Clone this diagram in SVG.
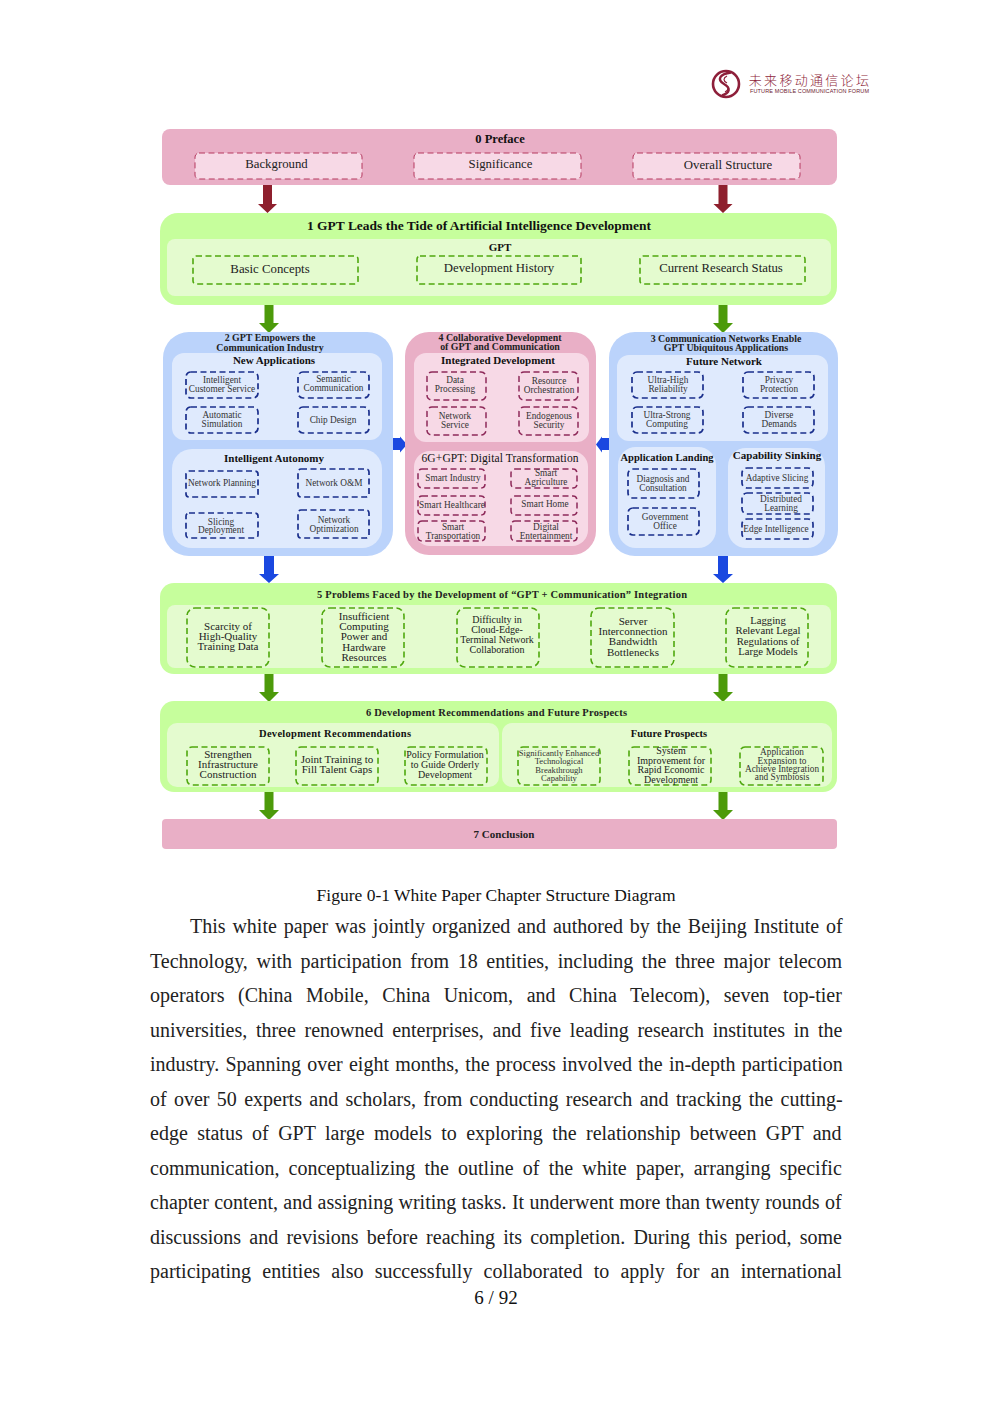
<svg xmlns="http://www.w3.org/2000/svg" width="992" height="1403" viewBox="0 0 992 1403">
<defs><style>
text{font-family:"Liberation Serif","Noto Sans CJK SC",serif;fill:#111;text-anchor:middle}
.t{font-weight:bold;font-size:11px}
.h{font-weight:bold;font-size:9.9px;fill:#222}
.w{font-weight:bold;font-size:11px;fill:#222}
.s{font-size:11px;fill:#222}
.m{font-size:10px;fill:#222}
.l{font-size:9.3px;fill:#333}
.xs{font-size:8.6px;fill:#333}
.top{font-size:12.8px;fill:#222}
.b{font-size:20px;text-anchor:start;fill:#222}
.pk{fill:#E9AFC6}.pi{fill:#F7D9E6}
.gr{fill:#C6FE9C}.gi{fill:#E4FBCF}
.bl{fill:#BBD3FB}.bi{fill:#DFEAFD}
.dp,.dg,.db,.dm{fill:none;stroke-dasharray:6 3.5}
.dp{stroke:#B5385F;stroke-width:1;fill:#F7D9E6}
.dm{stroke:#8E2A5A;stroke-width:1.5}
.dg{stroke:#4FA80E;stroke-width:1.6}
.db{stroke:#1A2F8C;stroke-width:1.7}
.am{fill:#8E1F2D}.ag{fill:#4C9A0A}.ab{fill:#1A48E0}
</style></defs>

<g id="logo">
<circle cx="726" cy="84" r="13" fill="none" stroke="#8E1F3A" stroke-width="2.6"/>
<path d="M731 72.500C719 74 717 80 724 84C731 88 730 93 722 95.500" fill="none" stroke="#8E1F3A" stroke-width="2.400"/>
<path d="M727 76C723 78 723 81 727 83M725 85C729 87 729 90 725 92" fill="none" stroke="#8E1F3A" stroke-width="1.200"/>
<text x="810" y="85" font-size="13" letter-spacing="2.300" style="fill:#8E1F3A;font-weight:300">未来移动通信论坛</text>
<text x="809.500" y="93" font-size="5.500" textLength="119" style="font-family:'Liberation Sans',sans-serif;fill:#6E1A30">FUTURE MOBILE COMMUNICATION FORUM</text>
</g>

<g id="connectors">
<path class="am" d="M263 185h9v19h5l-9.500 9l-9.500-9h5z"/>
<path class="am" d="M718.500 185h9v19h5l-9.500 9l-9.500-9h5z"/>
<path class="ag" d="M264.500 305h9v18h5.500l-10 10l-10-10h5.500z"/>
<path class="ag" d="M718.500 305h9v18h5.500l-10 10l-10-10h5.500z"/>
<path class="ab" d="M264 556h10v18h5l-10 9l-10-9h5z"/>
<path class="ab" d="M718 556h10v18h5l-10 9l-10-9h5z"/>
<path class="ag" d="M264.500 674h9v18h5.500l-10 10l-10-10h5.500z"/>
<path class="ag" d="M718.500 674h9v18h5.500l-10 10l-10-10h5.500z"/>
<path class="ag" d="M264.500 792h9v18h5.500l-10 10l-10-10h5.500z"/>
<path class="ag" d="M718.500 792h9v18h5.500l-10 10l-10-10h5.500z"/>
<path class="ab" d="M393 438h7v-1.500l7 8l-7 8v-2.500h-7z"/>
<path class="ab" d="M609 438h-7v-1.500l-6 8l6 8v-2.500h7z"/>
</g>

<g id="preface">
<rect class="pk" x="162" y="129" width="675" height="56" rx="8"/>
<text class="t" x="500" y="143" style="font-size:12.500px">0 Preface</text>
<g id="preface-background"><rect class="dp" x="195" y="153" width="167" height="26" rx="4"/><text class="top" x="276.500" y="168">Background</text></g>
<g id="preface-significance"><rect class="dp" x="414" y="153" width="167" height="26" rx="4"/><text class="top" x="500.500" y="168">Significance</text></g>
<g id="preface-structure"><rect class="dp" x="633" y="153" width="167" height="26" rx="4"/><text class="top" x="728" y="169">Overall Structure</text></g>
</g>

<g id="section1">
<rect class="gr" x="160" y="213" width="677" height="92" rx="18"/>
<rect class="gi" x="167" y="239" width="664" height="57" rx="8"/>
<text class="t" x="479" y="230" style="font-size:13px" textLength="344" lengthAdjust="spacingAndGlyphs">1 GPT Leads the Tide of Artificial Intelligence Development</text>
<text class="t" x="500" y="251">GPT</text>
<g id="s1-basic"><rect class="dg" x="193" y="256" width="165" height="28" rx="3"/><text class="top" x="270" y="273">Basic Concepts</text></g>
<g id="s1-history"><rect class="dg" x="417" y="256" width="164" height="28" rx="3"/><text class="top" x="499" y="272">Development History</text></g>
<g id="s1-status"><rect class="dg" x="640" y="256" width="165" height="28" rx="3"/><text class="top" x="721" y="272">Current Research Status</text></g>
</g>

<g id="section2">
<rect class="bl" x="163" y="332" width="230" height="224" rx="26"/>
<rect class="bi" x="172" y="353" width="210" height="87" rx="12"/>
<rect class="bi" x="172" y="449" width="210" height="99" rx="20"/>
<text class="h" x="270" y="341">2 GPT Empowers the</text><text class="h" x="270" y="351">Communication Industry</text>
<text class="t" x="274" y="364">New Applications</text>
<text class="t" x="274" y="462">Intelligent Autonomy</text>
<g id="s2-customer"><rect class="db" x="186" y="372" width="72" height="26" rx="5"/><text class="l" x="222" y="383">Intelligent</text><text class="l" x="222" y="392">Customer Service</text></g>
<g id="s2-semantic"><rect class="db" x="298" y="372" width="71" height="26" rx="5"/><text class="l" x="333.500" y="382">Semantic</text><text class="l" x="333.500" y="391">Communication</text></g>
<g id="s2-simulation"><rect class="db" x="186" y="407" width="72" height="26" rx="5"/><text class="l" x="222" y="418">Automatic</text><text class="l" x="222" y="427">Simulation</text></g>
<g id="s2-chip"><rect class="db" x="298" y="407" width="71" height="26" rx="5"/><text class="l" x="333" y="423">Chip Design</text></g>
<g id="s2-planning"><rect class="db" x="186" y="471" width="72" height="26" rx="3"/><text class="l" x="222" y="486">Network Planning</text></g>
<g id="s2-om"><rect class="db" x="298" y="469" width="71" height="28" rx="3"/><text class="l" x="334" y="486">Network O&amp;M</text></g>
<g id="s2-slicing"><rect class="db" x="186" y="513" width="72" height="25" rx="3"/><text class="l" x="221" y="525">Slicing</text><text class="l" x="221" y="533">Deployment</text></g>
<g id="s2-optimization"><rect class="db" x="298" y="510" width="71" height="28" rx="3"/><text class="l" x="334" y="523">Network</text><text class="l" x="334" y="532">Optimization</text></g>
</g>

<g id="section4">
<rect class="pk" x="405" y="332" width="191" height="223" rx="24"/>
<rect class="pi" x="414" y="353" width="175" height="89" rx="12"/>
<rect class="pi" x="414" y="451" width="174" height="95" rx="16"/>
<text class="h" x="500" y="341">4 Collaborative Development</text><text class="h" x="500" y="350">of GPT and Communication</text>
<text class="t" x="498" y="364">Integrated Development</text>
<text class="t" x="500" y="462" style="font-weight:normal;font-size:11.500px" textLength="157">6G+GPT: Digital Transformation</text>
<g id="s4-data"><rect class="dm" x="427" y="372" width="59" height="28" rx="5"/><text class="l" x="455" y="383">Data</text><text class="l" x="455" y="392">Processing</text></g>
<g id="s4-resource"><rect class="dm" x="519" y="372" width="59" height="28" rx="5"/><text class="l" x="549" y="384">Resource</text><text class="l" x="549" y="393">Orchestration</text></g>
<g id="s4-service"><rect class="dm" x="427" y="407" width="59" height="28" rx="5"/><text class="l" x="455" y="419">Network</text><text class="l" x="455" y="428">Service</text></g>
<g id="s4-security"><rect class="dm" x="519" y="407" width="59" height="28" rx="5"/><text class="l" x="549" y="419">Endogenous</text><text class="l" x="549" y="428">Security</text></g>
<g id="s4-industry"><rect class="dm" x="418" y="469" width="67" height="19" rx="4"/><text class="l" x="453" y="481">Smart Industry</text></g>
<g id="s4-agriculture"><rect class="dm" x="511" y="469" width="66" height="19" rx="4"/><text class="l" x="546" y="476">Smart</text><text class="l" x="546" y="485">Agriculture</text></g>
<g id="s4-healthcare"><rect class="dm" x="418" y="496" width="67" height="19" rx="4"/><text class="l" x="452" y="508" textLength="66">Smart Healthcare</text></g>
<g id="s4-home"><rect class="dm" x="511" y="496" width="66" height="19" rx="4"/><text class="l" x="545" y="507">Smart Home</text></g>
<g id="s4-transport"><rect class="dm" x="418" y="521" width="67" height="20" rx="4"/><text class="l" x="453" y="530">Smart</text><text class="l" x="453" y="539">Transportation</text></g>
<g id="s4-entertainment"><rect class="dm" x="511" y="521" width="66" height="20" rx="4"/><text class="l" x="546" y="530">Digital</text><text class="l" x="546" y="539">Entertainment</text></g>
</g>

<g id="section3">
<rect class="bl" x="609" y="332" width="229" height="224" rx="26"/>
<rect class="bi" x="617" y="355" width="211" height="86" rx="12"/>
<rect class="bi" x="618" y="447" width="98" height="101" rx="18"/>
<rect class="bi" x="728" y="448" width="97" height="100" rx="18"/>
<text class="h" x="726" y="342">3 Communication Networks Enable</text><text class="h" x="726" y="351">GPT Ubiquitous Applications</text>
<text class="t" x="724" y="365">Future Network</text>
<text class="t" x="667" y="461" style="font-size:10.500px">Application Landing</text>
<text class="t" x="777" y="459">Capability Sinking</text>
<g id="s3-reliability"><rect class="db" x="632" y="372" width="71" height="26" rx="5"/><text class="l" x="668" y="383">Ultra-High</text><text class="l" x="668" y="392">Reliability</text></g>
<g id="s3-privacy"><rect class="db" x="743" y="372" width="71" height="26" rx="5"/><text class="l" x="779" y="383">Privacy</text><text class="l" x="779" y="392">Protection</text></g>
<g id="s3-computing"><rect class="db" x="632" y="407" width="71" height="26" rx="5"/><text class="l" x="667" y="418">Ultra-Strong</text><text class="l" x="667" y="427">Computing</text></g>
<g id="s3-demands"><rect class="db" x="743" y="407" width="71" height="26" rx="5"/><text class="l" x="779" y="418">Diverse</text><text class="l" x="779" y="427">Demands</text></g>
<g id="s3-diagnosis"><rect class="db" x="628" y="469" width="71" height="29" rx="5"/><text class="l" x="663" y="482">Diagnosis and</text><text class="l" x="663" y="491">Consultation</text></g>
<g id="s3-government"><rect class="db" x="628" y="508" width="71" height="27" rx="5"/><text class="l" x="665" y="520">Government</text><text class="l" x="665" y="529">Office</text></g>
<g id="s3-slicing"><rect class="db" x="742" y="468" width="71" height="20" rx="5"/><text class="l" x="777" y="481">Adaptive Slicing</text></g>
<g id="s3-learning"><rect class="db" x="742" y="493" width="71" height="21" rx="5"/><text class="l" x="781" y="502">Distributed</text><text class="l" x="781" y="511">Learning</text></g>
<g id="s3-edge"><rect class="db" x="742" y="519" width="71" height="20" rx="5"/><text class="l" x="776" y="532">Edge Intelligence</text></g>
</g>

<g id="section5">
<rect class="gr" x="160" y="583" width="677" height="91" rx="14"/>
<rect class="gi" x="167" y="605" width="664" height="63" rx="8"/>
<text class="w" x="502" y="598" style="font-size:10.500px" textLength="370">5 Problems Faced by the Development of “GPT + Communication” Integration</text>
<g id="s5-data"><rect class="dg" x="187" y="608" width="82" height="59" rx="8"/><text class="s" x="228" y="630">Scarcity of</text><text class="s" x="228" y="640">High-Quality</text><text class="s" x="228" y="650">Training Data</text></g>
<g id="s5-power"><rect class="dg" x="322" y="608" width="82" height="59" rx="8"/><text class="s" x="364" y="620">Insufficient</text><text class="s" x="364" y="630">Computing</text><text class="s" x="364" y="640">Power and</text><text class="s" x="364" y="651">Hardware</text><text class="s" x="364" y="661">Resources</text></g>
<g id="s5-network"><rect class="dg" x="457" y="608" width="82" height="59" rx="8"/><text class="m" x="497" y="623">Difficulty in</text><text class="m" x="497" y="633">Cloud-Edge-</text><text class="m" x="497" y="643">Terminal Network</text><text class="m" x="497" y="653">Collaboration</text></g>
<g id="s5-bandwidth"><rect class="dg" x="591" y="608" width="83" height="59" rx="8"/><text class="s" x="633" y="625">Server</text><text class="s" x="633" y="635">Interconnection</text><text class="s" x="633" y="645">Bandwidth</text><text class="s" x="633" y="656">Bottlenecks</text></g>
<g id="s5-legal"><rect class="dg" x="726" y="608" width="82" height="59" rx="8"/><text class="s" x="768" y="624" style="font-size:10.700px">Lagging</text><text class="s" x="768" y="634" style="font-size:10.700px">Relevant Legal</text><text class="s" x="768" y="645" style="font-size:10.700px">Regulations of</text><text class="s" x="768" y="655" style="font-size:10.700px">Large Models</text></g>
</g>

<g id="section6">
<rect class="gr" x="160" y="701" width="677" height="91" rx="14"/>
<rect class="gi" x="167" y="723" width="332" height="64" rx="10"/>
<rect class="gi" x="502" y="723" width="330" height="64" rx="10"/>
<text class="w" x="496.500" y="716" style="font-size:10.500px" textLength="261">6 Development Recommendations and Future Prospects</text>
<text class="t" x="335" y="737" style="font-size:10.500px" textLength="152">Development Recommendations</text>
<text class="t" x="669" y="737" style="font-size:10.500px">Future Prospects</text>
<g id="s6-infra"><rect class="dg" x="187" y="747" width="82" height="38" rx="5"/><text class="s" x="228" y="758">Strengthen</text><text class="s" x="228" y="768">Infrastructure</text><text class="s" x="228" y="778">Construction</text></g>
<g id="s6-talent"><rect class="dg" x="296" y="747" width="82" height="38" rx="5"/><text class="s" x="337" y="763">Joint Training to</text><text class="s" x="337" y="773">Fill Talent Gaps</text></g>
<g id="s6-policy"><rect class="dg" x="405" y="747" width="82" height="38" rx="5"/><text class="m" x="445" y="758">Policy Formulation</text><text class="m" x="445" y="768">to Guide Orderly</text><text class="m" x="445" y="778">Development</text></g>
<g id="s6-tech"><rect class="dg" x="518" y="747" width="82" height="38" rx="5"/><text class="xs" x="559" y="756">Significantly Enhanced</text><text class="xs" x="559" y="764">Technological</text><text class="xs" x="559" y="773">Breakthrough</text><text class="xs" x="559" y="781">Capability</text></g>
<g id="s6-system"><rect class="dg" x="629" y="747" width="82" height="38" rx="5"/><text class="m" x="671" y="754">System</text><text class="m" x="671" y="764">Improvement for</text><text class="m" x="671" y="773">Rapid Economic</text><text class="m" x="671" y="783">Development</text></g>
<g id="s6-application"><rect class="dg" x="740" y="747" width="83" height="38" rx="5"/><text class="l" x="782" y="755">Application</text><text class="l" x="782" y="764">Expansion to</text><text class="l" x="782" y="772">Achieve Integration</text><text class="l" x="782" y="780">and Symbiosis</text></g>
</g>

<g id="section7">
<rect class="pk" x="162" y="819" width="675" height="30" rx="4"/>
<text class="w" x="504" y="838">7 Conclusion</text>
</g>

<text x="496" y="901" font-size="17.500" textLength="359">Figure 0-1 White Paper Chapter Structure Diagram</text>
<g id="body">
<text class="b" x="190" y="933" word-spacing="1.83">This white paper was jointly organized and authored by the Beijing Institute of</text>
<text class="b" x="150" y="968" word-spacing="3.6">Technology, with participation from 18 entities, including the three major telecom</text>
<text class="b" x="150" y="1002" word-spacing="8.56">operators (China Mobile, China Unicom, and China Telecom), seven top-tier</text>
<text class="b" x="150" y="1037" word-spacing="3.7">universities, three renowned enterprises, and five leading research institutes in the</text>
<text class="b" x="150" y="1071" word-spacing="1.2">industry. Spanning over eight months, the process involved the in-depth participation</text>
<text class="b" x="150" y="1106" word-spacing="2.33">of over 50 experts and scholars, from conducting research and tracking the cutting-</text>
<text class="b" x="150" y="1140" word-spacing="4.4">edge status of GPT large models to exploring the relationship between GPT and</text>
<text class="b" x="150" y="1175" word-spacing="4.2">communication, conceptualizing the outline of the white paper, arranging specific</text>
<text class="b" x="150" y="1209" word-spacing="0.33">chapter content, and assigning writing tasks. It underwent more than twenty rounds of</text>
<text class="b" x="150" y="1244" word-spacing="3.2">discussions and revisions before reaching its completion. During this period, some</text>
<text class="b" x="150" y="1278" word-spacing="6.2">participating entities also successfully collaborated to apply for an international</text>
</g>
<text x="496" y="1304" font-size="19">6 / 92</text>
</svg>
